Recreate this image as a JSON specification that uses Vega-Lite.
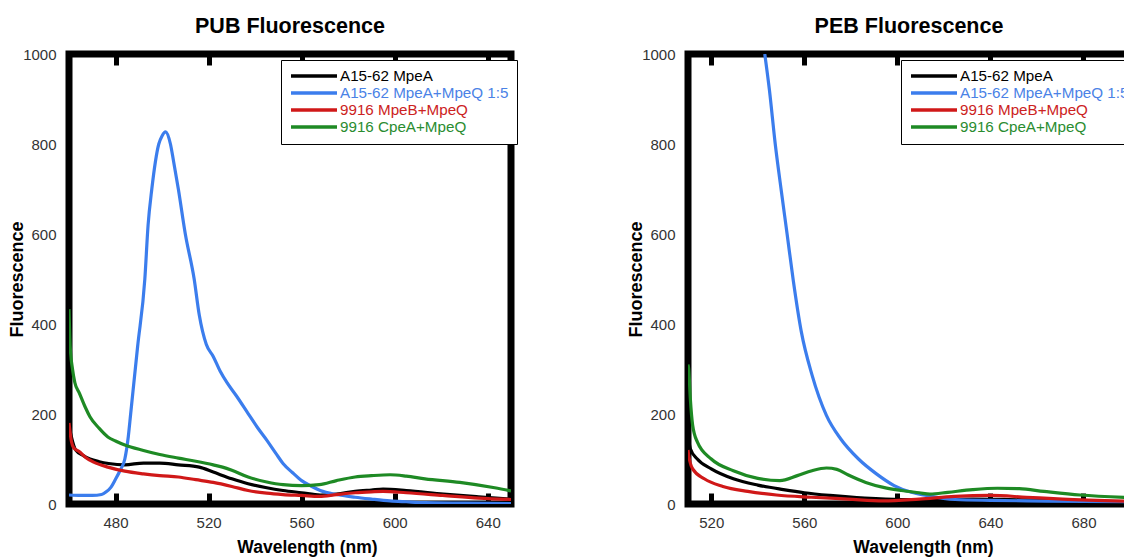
{
  "$schema": "https://vega.github.io/schema/vega-lite/v6.json",
  "padding": {"left": 5, "top": 12, "right": 0, "bottom": 0},
  "autosize": {"type": "pad"},
  "background": "white",
  "config": {
    "font": "Liberation Sans",
    "view": {"stroke": "black", "strokeWidth": 7},
    "axis": {"labelFont": "Liberation Sans", "labelFontSize": 15, "labelColor": "#333333", "titleFont": "Liberation Sans", "titleFontWeight": "bold", "titleColor": "black", "grid": false, "domain": false},
    "title": {"font": "Liberation Sans", "fontSize": 21.5, "fontWeight": "bold", "color": "black", "offset": 10},
    "legend": {"orient": "none", "strokeColor": "black", "strokeWidth": 1, "fillColor": "white", "padding": 8, "symbolType": "stroke", "symbolSize": 2116, "symbolStrokeWidth": 3.5, "labelFont": "Liberation Sans", "labelFontSize": 15.2, "labelOffset": 1, "rowPadding": -1.2, "clipHeight": 15.8, "labelLimit": 400, "title": null},
    "concat": {"spacing": 103}
  },
  "datasets": {
    "pub": [
      {"series": "A15-62 MpeA", "w": 460, "v": 175}, {"series": "A15-62 MpeA", "w": 461, "v": 150}, {"series": "A15-62 MpeA", "w": 463, "v": 119}, {"series": "A15-62 MpeA", "w": 466, "v": 108}, {"series": "A15-62 MpeA", "w": 469, "v": 100}, {"series": "A15-62 MpeA", "w": 473, "v": 94}, {"series": "A15-62 MpeA", "w": 477, "v": 90}, {"series": "A15-62 MpeA", "w": 484, "v": 87}, {"series": "A15-62 MpeA", "w": 492, "v": 91}, {"series": "A15-62 MpeA", "w": 499, "v": 91}, {"series": "A15-62 MpeA", "w": 507, "v": 87}, {"series": "A15-62 MpeA", "w": 516, "v": 82}, {"series": "A15-62 MpeA", "w": 522, "v": 71}, {"series": "A15-62 MpeA", "w": 530, "v": 56}, {"series": "A15-62 MpeA", "w": 537, "v": 45}, {"series": "A15-62 MpeA", "w": 545, "v": 36}, {"series": "A15-62 MpeA", "w": 552, "v": 30}, {"series": "A15-62 MpeA", "w": 560, "v": 25}, {"series": "A15-62 MpeA", "w": 568, "v": 20}, {"series": "A15-62 MpeA", "w": 575, "v": 22}, {"series": "A15-62 MpeA", "w": 583, "v": 28}, {"series": "A15-62 MpeA", "w": 590, "v": 31}, {"series": "A15-62 MpeA", "w": 595, "v": 33}, {"series": "A15-62 MpeA", "w": 605, "v": 30}, {"series": "A15-62 MpeA", "w": 621, "v": 22}, {"series": "A15-62 MpeA", "w": 636, "v": 16}, {"series": "A15-62 MpeA", "w": 650, "v": 11},
      {"series": "A15-62 MpeA+MpeQ 1:5", "w": 460, "v": 20}, {"series": "A15-62 MpeA+MpeQ 1:5", "w": 465, "v": 19}, {"series": "A15-62 MpeA+MpeQ 1:5", "w": 470, "v": 19}, {"series": "A15-62 MpeA+MpeQ 1:5", "w": 474, "v": 21}, {"series": "A15-62 MpeA+MpeQ 1:5", "w": 476, "v": 27}, {"series": "A15-62 MpeA+MpeQ 1:5", "w": 478, "v": 37}, {"series": "A15-62 MpeA+MpeQ 1:5", "w": 480, "v": 55}, {"series": "A15-62 MpeA+MpeQ 1:5", "w": 482, "v": 75}, {"series": "A15-62 MpeA+MpeQ 1:5", "w": 484, "v": 100}, {"series": "A15-62 MpeA+MpeQ 1:5", "w": 485.5, "v": 150}, {"series": "A15-62 MpeA+MpeQ 1:5", "w": 486.5, "v": 200}, {"series": "A15-62 MpeA+MpeQ 1:5", "w": 489.5, "v": 350}, {"series": "A15-62 MpeA+MpeQ 1:5", "w": 492.6, "v": 500}, {"series": "A15-62 MpeA+MpeQ 1:5", "w": 494, "v": 620}, {"series": "A15-62 MpeA+MpeQ 1:5", "w": 495.6, "v": 700}, {"series": "A15-62 MpeA+MpeQ 1:5", "w": 498.6, "v": 800}, {"series": "A15-62 MpeA+MpeQ 1:5", "w": 500, "v": 818}, {"series": "A15-62 MpeA+MpeQ 1:5", "w": 501.5, "v": 827}, {"series": "A15-62 MpeA+MpeQ 1:5", "w": 503.6, "v": 800}, {"series": "A15-62 MpeA+MpeQ 1:5", "w": 505, "v": 760}, {"series": "A15-62 MpeA+MpeQ 1:5", "w": 507, "v": 700}, {"series": "A15-62 MpeA+MpeQ 1:5", "w": 510, "v": 600}, {"series": "A15-62 MpeA+MpeQ 1:5", "w": 513.8, "v": 500}, {"series": "A15-62 MpeA+MpeQ 1:5", "w": 516, "v": 420}, {"series": "A15-62 MpeA+MpeQ 1:5", "w": 519, "v": 355}, {"series": "A15-62 MpeA+MpeQ 1:5", "w": 522, "v": 328}, {"series": "A15-62 MpeA+MpeQ 1:5", "w": 525, "v": 295}, {"series": "A15-62 MpeA+MpeQ 1:5", "w": 528, "v": 269}, {"series": "A15-62 MpeA+MpeQ 1:5", "w": 532, "v": 240}, {"series": "A15-62 MpeA+MpeQ 1:5", "w": 537, "v": 201}, {"series": "A15-62 MpeA+MpeQ 1:5", "w": 541, "v": 170}, {"series": "A15-62 MpeA+MpeQ 1:5", "w": 545, "v": 142}, {"series": "A15-62 MpeA+MpeQ 1:5", "w": 549, "v": 112}, {"series": "A15-62 MpeA+MpeQ 1:5", "w": 552, "v": 90}, {"series": "A15-62 MpeA+MpeQ 1:5", "w": 556, "v": 70}, {"series": "A15-62 MpeA+MpeQ 1:5", "w": 560, "v": 52}, {"series": "A15-62 MpeA+MpeQ 1:5", "w": 564, "v": 40}, {"series": "A15-62 MpeA+MpeQ 1:5", "w": 568, "v": 30}, {"series": "A15-62 MpeA+MpeQ 1:5", "w": 575, "v": 21}, {"series": "A15-62 MpeA+MpeQ 1:5", "w": 583, "v": 15}, {"series": "A15-62 MpeA+MpeQ 1:5", "w": 590, "v": 11}, {"series": "A15-62 MpeA+MpeQ 1:5", "w": 598, "v": 7}, {"series": "A15-62 MpeA+MpeQ 1:5", "w": 605, "v": 5}, {"series": "A15-62 MpeA+MpeQ 1:5", "w": 613, "v": 3}, {"series": "A15-62 MpeA+MpeQ 1:5", "w": 630, "v": 2}, {"series": "A15-62 MpeA+MpeQ 1:5", "w": 650, "v": 1},
      {"series": "9916 MpeB+MpeQ", "w": 460, "v": 180}, {"series": "9916 MpeB+MpeQ", "w": 461, "v": 140}, {"series": "9916 MpeB+MpeQ", "w": 462, "v": 125}, {"series": "9916 MpeB+MpeQ", "w": 464.5, "v": 116}, {"series": "9916 MpeB+MpeQ", "w": 467, "v": 104}, {"series": "9916 MpeB+MpeQ", "w": 470.6, "v": 93}, {"series": "9916 MpeB+MpeQ", "w": 476.7, "v": 82}, {"series": "9916 MpeB+MpeQ", "w": 484, "v": 73}, {"series": "9916 MpeB+MpeQ", "w": 492, "v": 67}, {"series": "9916 MpeB+MpeQ", "w": 499, "v": 63}, {"series": "9916 MpeB+MpeQ", "w": 507, "v": 60}, {"series": "9916 MpeB+MpeQ", "w": 514.5, "v": 54}, {"series": "9916 MpeB+MpeQ", "w": 522, "v": 48}, {"series": "9916 MpeB+MpeQ", "w": 530, "v": 39}, {"series": "9916 MpeB+MpeQ", "w": 537, "v": 30}, {"series": "9916 MpeB+MpeQ", "w": 545, "v": 24}, {"series": "9916 MpeB+MpeQ", "w": 552, "v": 21}, {"series": "9916 MpeB+MpeQ", "w": 560, "v": 19}, {"series": "9916 MpeB+MpeQ", "w": 567.6, "v": 17}, {"series": "9916 MpeB+MpeQ", "w": 575, "v": 21}, {"series": "9916 MpeB+MpeQ", "w": 583, "v": 25}, {"series": "9916 MpeB+MpeQ", "w": 590, "v": 27}, {"series": "9916 MpeB+MpeQ", "w": 595, "v": 28}, {"series": "9916 MpeB+MpeQ", "w": 605, "v": 25}, {"series": "9916 MpeB+MpeQ", "w": 620.6, "v": 19}, {"series": "9916 MpeB+MpeQ", "w": 636, "v": 13}, {"series": "9916 MpeB+MpeQ", "w": 650, "v": 10},
      {"series": "9916 CpeA+MpeQ", "w": 460, "v": 433}, {"series": "9916 CpeA+MpeQ", "w": 460.5, "v": 351}, {"series": "9916 CpeA+MpeQ", "w": 461.5, "v": 300}, {"series": "9916 CpeA+MpeQ", "w": 462.5, "v": 270}, {"series": "9916 CpeA+MpeQ", "w": 464.5, "v": 246}, {"series": "9916 CpeA+MpeQ", "w": 467, "v": 215}, {"series": "9916 CpeA+MpeQ", "w": 469, "v": 194}, {"series": "9916 CpeA+MpeQ", "w": 473, "v": 168}, {"series": "9916 CpeA+MpeQ", "w": 476.7, "v": 149}, {"series": "9916 CpeA+MpeQ", "w": 480, "v": 140}, {"series": "9916 CpeA+MpeQ", "w": 484, "v": 131}, {"series": "9916 CpeA+MpeQ", "w": 492, "v": 119}, {"series": "9916 CpeA+MpeQ", "w": 499, "v": 110}, {"series": "9916 CpeA+MpeQ", "w": 507, "v": 102}, {"series": "9916 CpeA+MpeQ", "w": 514.5, "v": 95}, {"series": "9916 CpeA+MpeQ", "w": 522, "v": 87}, {"series": "9916 CpeA+MpeQ", "w": 526, "v": 82}, {"series": "9916 CpeA+MpeQ", "w": 530, "v": 75}, {"series": "9916 CpeA+MpeQ", "w": 537, "v": 60}, {"series": "9916 CpeA+MpeQ", "w": 545, "v": 49}, {"series": "9916 CpeA+MpeQ", "w": 552, "v": 43}, {"series": "9916 CpeA+MpeQ", "w": 560, "v": 41}, {"series": "9916 CpeA+MpeQ", "w": 567.6, "v": 43}, {"series": "9916 CpeA+MpeQ", "w": 575, "v": 52}, {"series": "9916 CpeA+MpeQ", "w": 583, "v": 60}, {"series": "9916 CpeA+MpeQ", "w": 590, "v": 63}, {"series": "9916 CpeA+MpeQ", "w": 598, "v": 65}, {"series": "9916 CpeA+MpeQ", "w": 605, "v": 62}, {"series": "9916 CpeA+MpeQ", "w": 613, "v": 56}, {"series": "9916 CpeA+MpeQ", "w": 628, "v": 48}, {"series": "9916 CpeA+MpeQ", "w": 643, "v": 36}, {"series": "9916 CpeA+MpeQ", "w": 650, "v": 29}
    ],
    "peb": [
      {"series": "A15-62 MpeA", "w": 510, "v": 160}, {"series": "A15-62 MpeA", "w": 510.3, "v": 145}, {"series": "A15-62 MpeA", "w": 511, "v": 123}, {"series": "A15-62 MpeA", "w": 514, "v": 100}, {"series": "A15-62 MpeA", "w": 520, "v": 78}, {"series": "A15-62 MpeA", "w": 529.5, "v": 56}, {"series": "A15-62 MpeA", "w": 540, "v": 42}, {"series": "A15-62 MpeA", "w": 551, "v": 32}, {"series": "A15-62 MpeA", "w": 560, "v": 25}, {"series": "A15-62 MpeA", "w": 571, "v": 19}, {"series": "A15-62 MpeA", "w": 586, "v": 13}, {"series": "A15-62 MpeA", "w": 601.7, "v": 10}, {"series": "A15-62 MpeA", "w": 617, "v": 10}, {"series": "A15-62 MpeA", "w": 632.4, "v": 11}, {"series": "A15-62 MpeA", "w": 647.8, "v": 10}, {"series": "A15-62 MpeA", "w": 671, "v": 7}, {"series": "A15-62 MpeA", "w": 700, "v": 5},
      {"series": "A15-62 MpeA+MpeQ 1:5", "w": 543, "v": 1000}, {"series": "A15-62 MpeA+MpeQ 1:5", "w": 545, "v": 920}, {"series": "A15-62 MpeA+MpeQ 1:5", "w": 547.5, "v": 800}, {"series": "A15-62 MpeA+MpeQ 1:5", "w": 550, "v": 700}, {"series": "A15-62 MpeA+MpeQ 1:5", "w": 552.6, "v": 600}, {"series": "A15-62 MpeA+MpeQ 1:5", "w": 555.3, "v": 495}, {"series": "A15-62 MpeA+MpeQ 1:5", "w": 558.7, "v": 383}, {"series": "A15-62 MpeA+MpeQ 1:5", "w": 563.3, "v": 287}, {"series": "A15-62 MpeA+MpeQ 1:5", "w": 569.5, "v": 197}, {"series": "A15-62 MpeA+MpeQ 1:5", "w": 575.6, "v": 145}, {"series": "A15-62 MpeA+MpeQ 1:5", "w": 583.3, "v": 100}, {"series": "A15-62 MpeA+MpeQ 1:5", "w": 591, "v": 67}, {"series": "A15-62 MpeA+MpeQ 1:5", "w": 598.6, "v": 41}, {"series": "A15-62 MpeA+MpeQ 1:5", "w": 606, "v": 26}, {"series": "A15-62 MpeA+MpeQ 1:5", "w": 612.5, "v": 19}, {"series": "A15-62 MpeA+MpeQ 1:5", "w": 624.8, "v": 10}, {"series": "A15-62 MpeA+MpeQ 1:5", "w": 640, "v": 8}, {"series": "A15-62 MpeA+MpeQ 1:5", "w": 655.5, "v": 7}, {"series": "A15-62 MpeA+MpeQ 1:5", "w": 680, "v": 6}, {"series": "A15-62 MpeA+MpeQ 1:5", "w": 700, "v": 5},
      {"series": "9916 MpeB+MpeQ", "w": 510, "v": 120}, {"series": "9916 MpeB+MpeQ", "w": 510.3, "v": 108}, {"series": "9916 MpeB+MpeQ", "w": 512, "v": 78}, {"series": "9916 MpeB+MpeQ", "w": 517, "v": 56}, {"series": "9916 MpeB+MpeQ", "w": 525, "v": 39}, {"series": "9916 MpeB+MpeQ", "w": 535.7, "v": 28}, {"series": "9916 MpeB+MpeQ", "w": 548, "v": 20}, {"series": "9916 MpeB+MpeQ", "w": 563, "v": 15}, {"series": "9916 MpeB+MpeQ", "w": 578.7, "v": 11}, {"series": "9916 MpeB+MpeQ", "w": 594, "v": 7}, {"series": "9916 MpeB+MpeQ", "w": 609.4, "v": 11}, {"series": "9916 MpeB+MpeQ", "w": 624.8, "v": 17}, {"series": "9916 MpeB+MpeQ", "w": 640, "v": 19}, {"series": "9916 MpeB+MpeQ", "w": 655.5, "v": 15}, {"series": "9916 MpeB+MpeQ", "w": 671, "v": 11}, {"series": "9916 MpeB+MpeQ", "w": 700, "v": 6},
      {"series": "9916 CpeA+MpeQ", "w": 510, "v": 310}, {"series": "9916 CpeA+MpeQ", "w": 510.3, "v": 300}, {"series": "9916 CpeA+MpeQ", "w": 511, "v": 234}, {"series": "9916 CpeA+MpeQ", "w": 512, "v": 175}, {"series": "9916 CpeA+MpeQ", "w": 514, "v": 138}, {"series": "9916 CpeA+MpeQ", "w": 520, "v": 100}, {"series": "9916 CpeA+MpeQ", "w": 529.5, "v": 74}, {"series": "9916 CpeA+MpeQ", "w": 540, "v": 57}, {"series": "9916 CpeA+MpeQ", "w": 549.5, "v": 52}, {"series": "9916 CpeA+MpeQ", "w": 557, "v": 63}, {"series": "9916 CpeA+MpeQ", "w": 563.3, "v": 74}, {"series": "9916 CpeA+MpeQ", "w": 569.5, "v": 80}, {"series": "9916 CpeA+MpeQ", "w": 574, "v": 77}, {"series": "9916 CpeA+MpeQ", "w": 578.7, "v": 65}, {"series": "9916 CpeA+MpeQ", "w": 586.4, "v": 48}, {"series": "9916 CpeA+MpeQ", "w": 594, "v": 37}, {"series": "9916 CpeA+MpeQ", "w": 601.7, "v": 30}, {"series": "9916 CpeA+MpeQ", "w": 609.4, "v": 25}, {"series": "9916 CpeA+MpeQ", "w": 614, "v": 22}, {"series": "9916 CpeA+MpeQ", "w": 621.7, "v": 26}, {"series": "9916 CpeA+MpeQ", "w": 632.4, "v": 32}, {"series": "9916 CpeA+MpeQ", "w": 643, "v": 35}, {"series": "9916 CpeA+MpeQ", "w": 652.4, "v": 34}, {"series": "9916 CpeA+MpeQ", "w": 663, "v": 28}, {"series": "9916 CpeA+MpeQ", "w": 678.5, "v": 20}, {"series": "9916 CpeA+MpeQ", "w": 700, "v": 14}
    ]
  },
  "hconcat": [
    {
      "title": {"text": "PUB Fluorescence"},
      "width": 442,
      "height": 450,
      "data": {"name": "pub"},
      "encoding": {
        "y": {"field": "v", "type": "quantitative", "scale": {"domain": [0, 1000], "nice": false},
              "axis": {"values": [0, 200, 400, 600, 800, 1000], "format": "d", "ticks": false, "labelPadding": 13, "title": "Fluorescence", "titleFontSize": 18, "titlePadding": -4}}
      },
      "layer": [
        {
          "mark": {"type": "line", "strokeWidth": 3.2, "interpolate": "monotone", "clip": true},
          "encoding": {
            "x": {"field": "w", "type": "quantitative", "scale": {"domain": [460, 650], "nice": false, "zero": false},
                  "axis": {"orient": "bottom", "values": [480, 520, 560, 600, 640], "tickSize": -11, "tickWidth": 5, "tickColor": "black", "labelPadding": 22, "title": "Wavelength (nm)", "titleFontSize": 17.5, "titlePadding": 8, "titleX": 238}},
            "color": {"field": "series", "type": "nominal",
                      "scale": {"domain": ["A15-62 MpeA", "A15-62 MpeA+MpeQ 1:5", "9916 MpeB+MpeQ", "9916 CpeA+MpeQ"], "range": ["#000000", "#3b7ded", "#d01818", "#1e8a24"]},
                      "legend": {"legendX": 212, "legendY": 6,
                                 "encode": {"labels": {"update": {"fill": {"signal": "datum.value === 'A15-62 MpeA' ? '#000000' : datum.value === 'A15-62 MpeA+MpeQ 1:5' ? '#4a82e6' : datum.value === '9916 MpeB+MpeQ' ? '#cc2222' : '#2a8c30'"}}}}}}
          }
        },
        {
          "mark": {"type": "line", "strokeOpacity": 0},
          "encoding": {
            "x": {"field": "w", "type": "quantitative", "axis": {"orient": "top", "values": [480, 520, 560, 600, 640], "labels": false, "tickSize": -11, "tickWidth": 5, "tickColor": "black", "title": null}},
            "detail": {"field": "series"}
          }
        }
      ],
      "resolve": {"axis": {"x": "independent"}}
    },
    {
      "title": {"text": "PEB Fluorescence"},
      "width": 442,
      "height": 450,
      "data": {"name": "peb"},
      "encoding": {
        "y": {"field": "v", "type": "quantitative", "scale": {"domain": [0, 1000], "nice": false},
              "axis": {"values": [0, 200, 400, 600, 800, 1000], "format": "d", "ticks": false, "labelPadding": 13, "title": "Fluorescence", "titleFontSize": 18, "titlePadding": -4}}
      },
      "layer": [
        {
          "mark": {"type": "line", "strokeWidth": 3.2, "interpolate": "monotone", "clip": true},
          "encoding": {
            "x": {"field": "w", "type": "quantitative", "scale": {"domain": [510, 700], "nice": false, "zero": false},
                  "axis": {"orient": "bottom", "values": [520, 560, 600, 640, 680], "tickSize": -11, "tickWidth": 5, "tickColor": "black", "labelPadding": 22, "title": "Wavelength (nm)", "titleFontSize": 17.5, "titlePadding": 8, "titleX": 235}},
            "color": {"field": "series", "type": "nominal",
                      "scale": {"domain": ["A15-62 MpeA", "A15-62 MpeA+MpeQ 1:5", "9916 MpeB+MpeQ", "9916 CpeA+MpeQ"], "range": ["#000000", "#3b7ded", "#d01818", "#1e8a24"]},
                      "legend": {"legendX": 213, "legendY": 6,
                                 "encode": {"labels": {"update": {"fill": {"signal": "datum.value === 'A15-62 MpeA' ? '#000000' : datum.value === 'A15-62 MpeA+MpeQ 1:5' ? '#4a82e6' : datum.value === '9916 MpeB+MpeQ' ? '#cc2222' : '#2a8c30'"}}}}}}
          }
        },
        {
          "mark": {"type": "line", "strokeOpacity": 0},
          "encoding": {
            "x": {"field": "w", "type": "quantitative", "axis": {"orient": "top", "values": [520, 560, 600, 640, 680], "labels": false, "tickSize": -11, "tickWidth": 5, "tickColor": "black", "title": null}},
            "detail": {"field": "series"}
          }
        }
      ],
      "resolve": {"axis": {"x": "independent"}}
    }
  ],
  "resolve": {"scale": {"color": "independent"}}
}
